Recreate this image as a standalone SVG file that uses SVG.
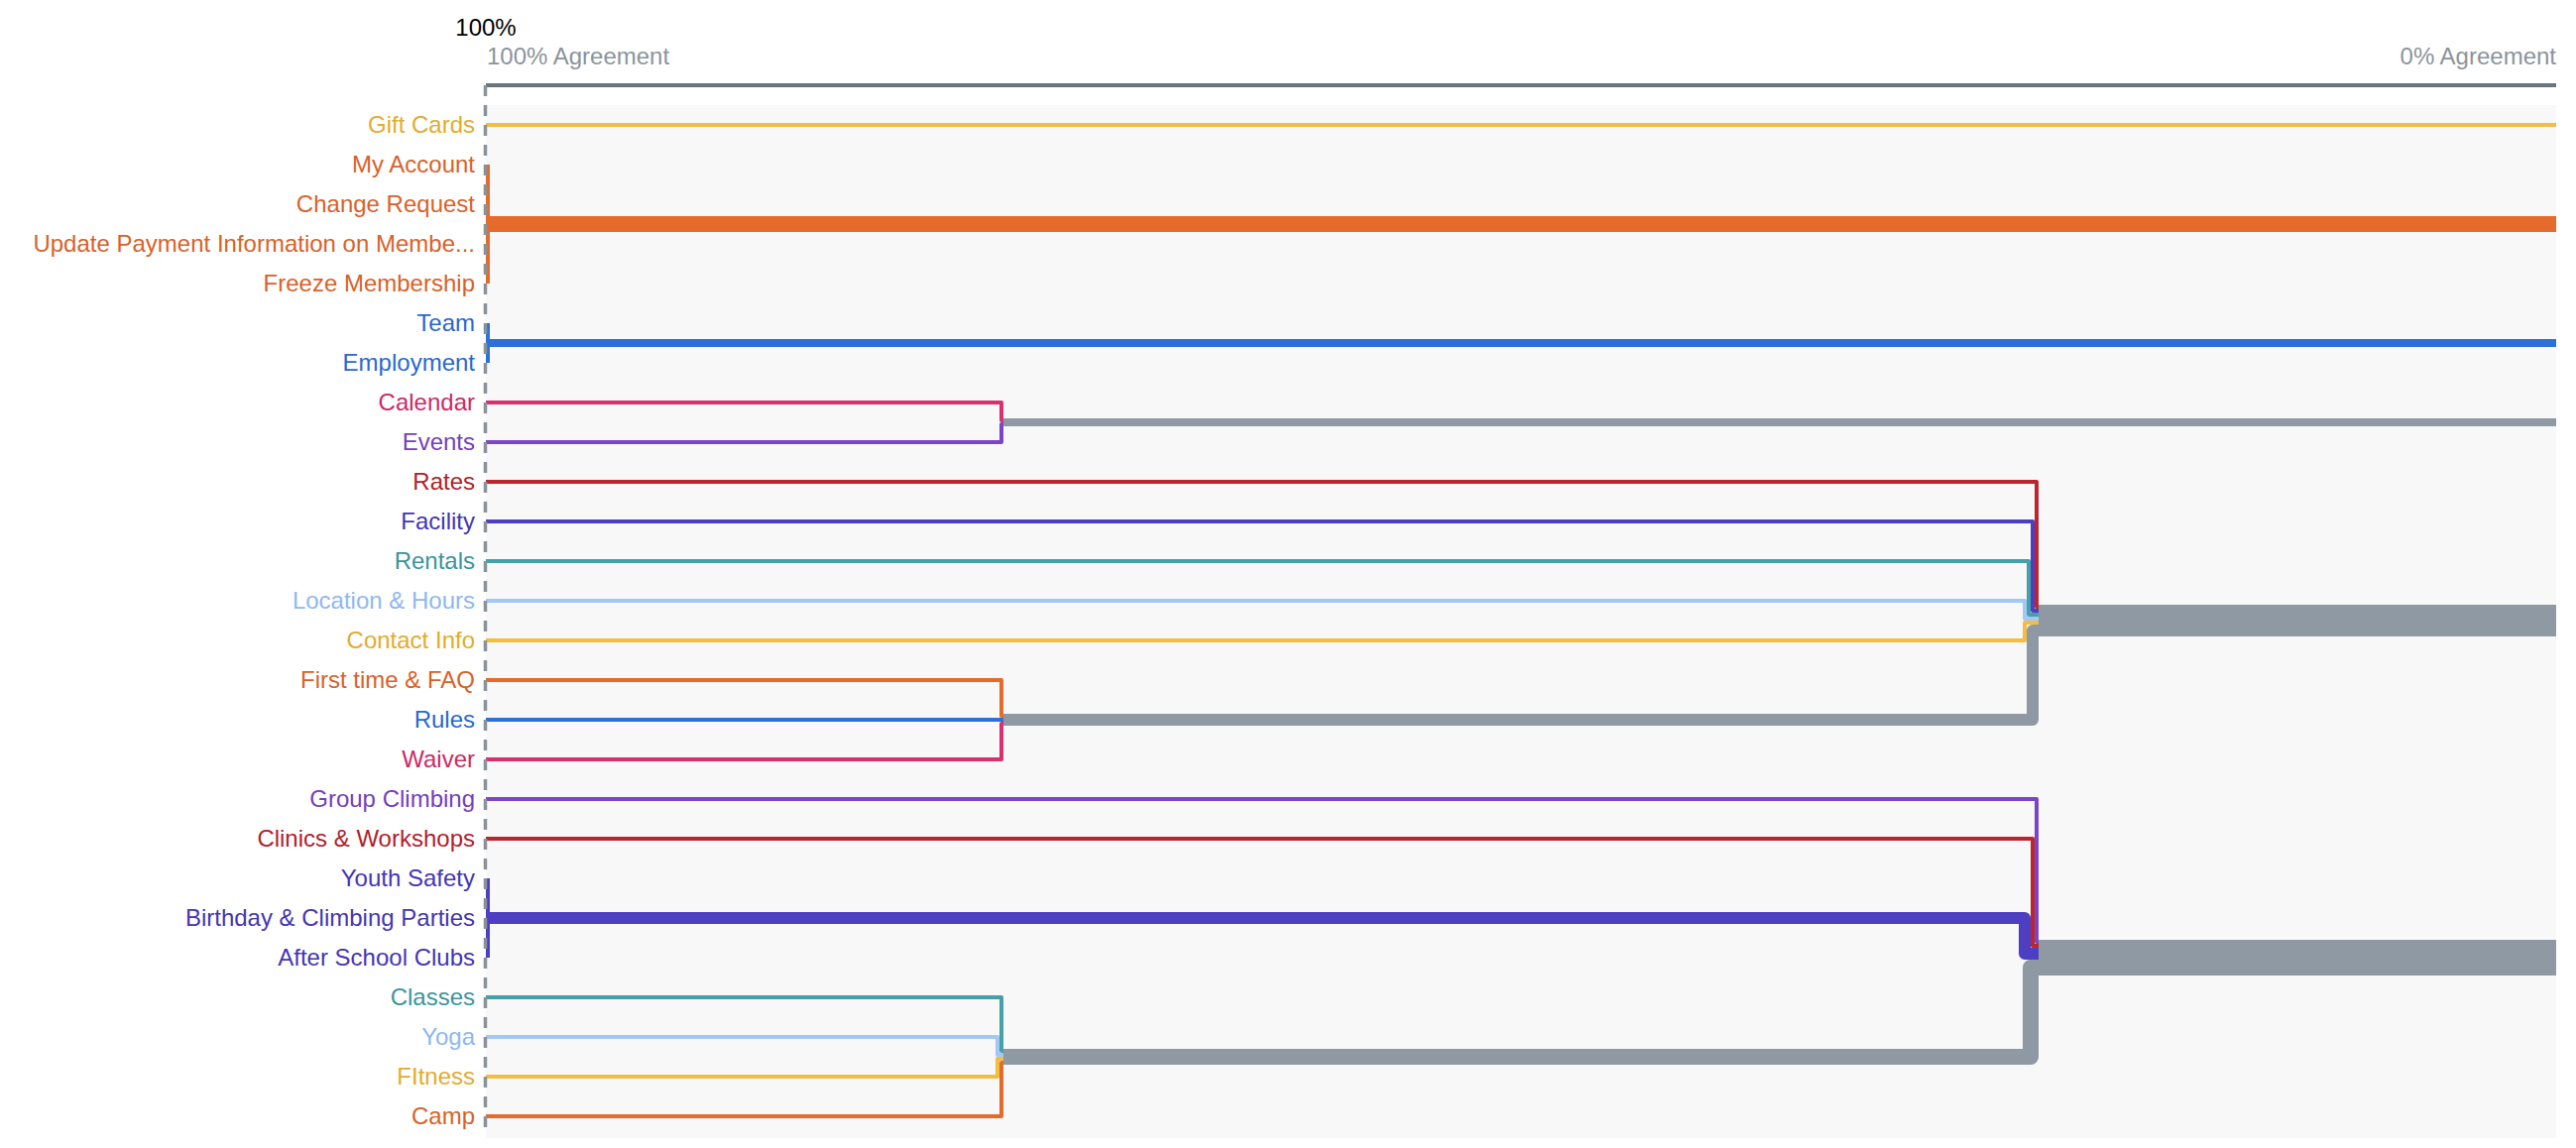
<svg xmlns="http://www.w3.org/2000/svg" width="2598" height="1158" viewBox="0 0 2598 1158">
<style>
text{font-family:"Liberation Sans",Arial,Helvetica,sans-serif;font-size:24px}
.lbl{text-anchor:end}
.ax{fill:#8b949c}
path{fill:none;stroke-linejoin:round;stroke-linecap:butt}
.w4{stroke-width:4}
.w8{stroke-width:8}
.w12{stroke-width:12}
.w16{stroke-width:16}
.w32{stroke-width:32}
.w36{stroke-width:36}
.gy{stroke:#8e99a4}
.ly{stroke:#f2be42}.ty{fill:#e2ac2f}
.lo{stroke:#e56b2c}.to{fill:#d8622a}
.lb{stroke:#2c70d8}.tb{fill:#2a68cf}
.lp{stroke:#d9316f}.tp{fill:#cc2a66}
.lu{stroke:#7b45c6}.tu{fill:#7440bd}
.lr{stroke:#bd252e}.tr{fill:#b0222b}
.li{stroke:#4e3fc2}.ti{fill:#4535b5}
.lt{stroke:#45a0a8}.tt{fill:#3a959d}
.ll{stroke:#a3c8f7}.tl{fill:#8fb8f0}
</style>
<rect x="0" y="0" width="2598" height="1158" fill="#ffffff"/>
<rect x="490" y="106" width="2088" height="1042" fill="#f8f8f8"/>
<g id="axis">
<text x="490" y="36" text-anchor="middle" fill="#000000">100%</text>
<text class="ax" x="491" y="65">100% Agreement</text>
<text class="ax" x="2578" y="65" text-anchor="end">0% Agreement</text>
<line x1="490" y1="86" x2="2578" y2="86" stroke="#6b757c" stroke-width="4"/>
</g>
<g id="connectors">
<path class="ly w4" d="M490,126 H2578"/>
<path class="lo w16" d="M490,226 H2578"/>
<path class="lo w4" d="M492,166 V286" stroke-linecap="round"/>
<path class="lb w8" d="M490,346 H2578"/>
<path class="lb w4" d="M492,326 V366" stroke-linecap="round"/>
<path class="lp w4" d="M490,406 H1010 V424 H1012"/>
<path class="lu w4" d="M490,446 H1010 V428 H1012"/>
<path class="gy w8" d="M1012,426 H2578"/>
<path class="lo w4" d="M490,686 H1010 V722 H1012"/>
<path class="lp w4" d="M490,766 H1010 V730 H1012"/>
<path class="lb w4" d="M490,726 H1012"/>
<path class="gy w12" d="M1012,726 H2050 V636 H2056"/>
<path class="lr w4" d="M490,486 H2054 V612 H2056"/>
<path class="li w4" d="M490,526 H2050 V616 H2056"/>
<path class="lt w4" d="M490,566 H2046 V620 H2056"/>
<path class="ll w4" d="M490,606 H2042 V624 H2056"/>
<path class="ly w4" d="M490,646 H2042 V628 H2056"/>
<path class="gy w32" d="M2056,626 H2578"/>
<path class="lu w4" d="M490,806 H2054 V950 H2056"/>
<path class="lr w4" d="M490,846 H2050 V954 H2056"/>
<path class="li w12" d="M490,926 H2042 V962 H2056"/>
<path class="li w4" d="M492,886 V966" stroke-linecap="round"/>
<path class="lt w4" d="M490,1006 H1010 V1060 H1012"/>
<path class="ll w4" d="M490,1046 H1006 V1064 H1012"/>
<path class="ly w4" d="M490,1086 H1006 V1068 H1012"/>
<path class="lo w4" d="M490,1126 H1010 V1072 H1012"/>
<path class="gy w16" d="M1012,1066 H2048 V976 H2056"/>
<path class="gy w36" d="M2056,966 H2578"/>
<line x1="489.5" y1="86" x2="489.5" y2="1140" stroke="#8a9299" stroke-width="3.5" stroke-dasharray="11 9"/>
</g>
<g id="n-gift-cards"><text class="lbl ty" x="479" y="134">Gift Cards</text></g>
<g id="n-my-account"><text class="lbl to" x="479" y="174">My Account</text></g>
<g id="n-change-request"><text class="lbl to" x="479" y="214">Change Request</text></g>
<g id="n-update-payment"><text class="lbl to" x="479" y="254">Update Payment Information on Membe...</text></g>
<g id="n-freeze-membership"><text class="lbl to" x="479" y="294">Freeze Membership</text></g>
<g id="n-team"><text class="lbl tb" x="479" y="334">Team</text></g>
<g id="n-employment"><text class="lbl tb" x="479" y="374">Employment</text></g>
<g id="n-calendar"><text class="lbl tp" x="479" y="414">Calendar</text></g>
<g id="n-events"><text class="lbl tu" x="479" y="454">Events</text></g>
<g id="n-rates"><text class="lbl tr" x="479" y="494">Rates</text></g>
<g id="n-facility"><text class="lbl ti" x="479" y="534">Facility</text></g>
<g id="n-rentals"><text class="lbl tt" x="479" y="574">Rentals</text></g>
<g id="n-location-hours"><text class="lbl tl" x="479" y="614">Location &amp; Hours</text></g>
<g id="n-contact-info"><text class="lbl ty" x="479" y="654">Contact Info</text></g>
<g id="n-first-time-faq"><text class="lbl to" x="479" y="694">First time &amp; FAQ</text></g>
<g id="n-rules"><text class="lbl tb" x="479" y="734">Rules</text></g>
<g id="n-waiver"><text class="lbl tp" x="479" y="774">Waiver</text></g>
<g id="n-group-climbing"><text class="lbl tu" x="479" y="814">Group Climbing</text></g>
<g id="n-clinics-workshops"><text class="lbl tr" x="479" y="854">Clinics &amp; Workshops</text></g>
<g id="n-youth-safety"><text class="lbl ti" x="479" y="894">Youth Safety</text></g>
<g id="n-birthday-parties"><text class="lbl ti" x="479" y="934">Birthday &amp; Climbing Parties</text></g>
<g id="n-after-school-clubs"><text class="lbl ti" x="479" y="974">After School Clubs</text></g>
<g id="n-classes"><text class="lbl tt" x="479" y="1014">Classes</text></g>
<g id="n-yoga"><text class="lbl tl" x="479" y="1054">Yoga</text></g>
<g id="n-fitness"><text class="lbl ty" x="479" y="1094">FItness</text></g>
<g id="n-camp"><text class="lbl to" x="479" y="1134">Camp</text></g>
</svg>
